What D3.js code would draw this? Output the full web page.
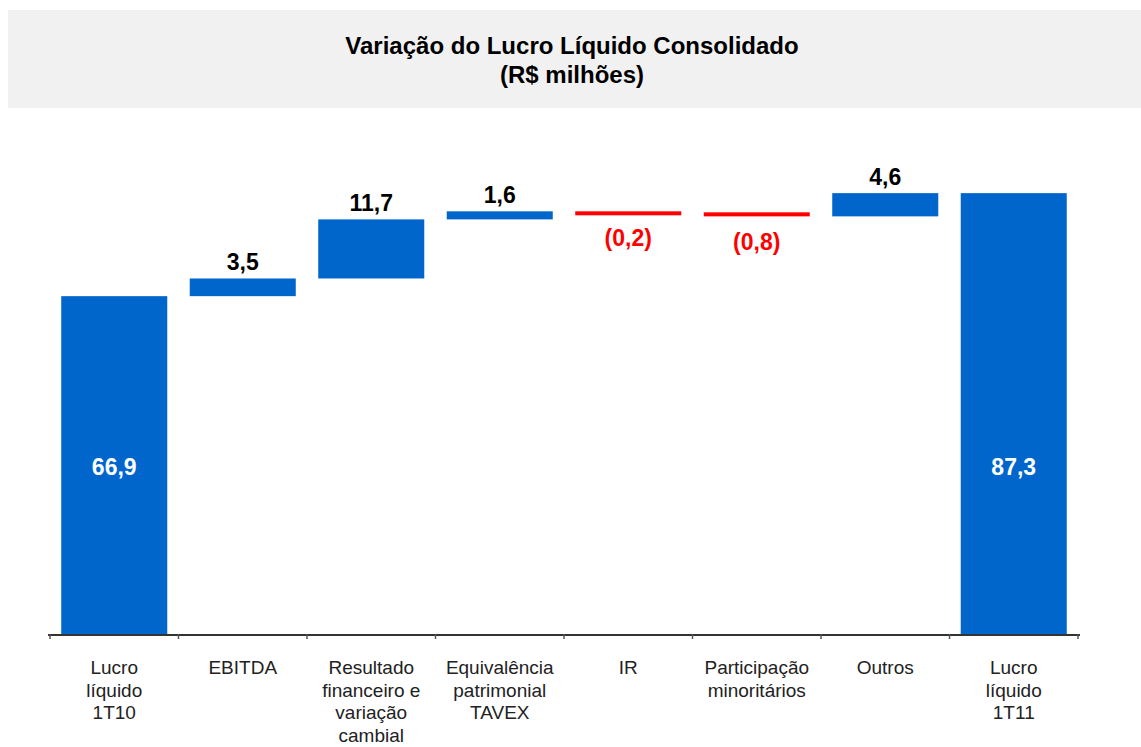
<!DOCTYPE html>
<html>
<head>
<meta charset="utf-8">
<script src="https://cdn.jsdelivr.net/npm/d3@7"></script>
<style>
    body { margin: 0; background: #fff; }
    text { font-family: "Liberation Sans", Arial, sans-serif; }
    .title { font-size: 24px; font-weight: bold; fill: #000; }
    .cat { font-size: 19px; fill: #222; }
    .val { font-size: 23px; font-weight: bold; }
</style>
</head>
<body>
<div id="chart"></div>
<script>
    let steps = [
        {label: ["Lucro", "líquido", "1T10"], value: 66.9, type: "total"},
        {label: ["EBITDA"], value: 3.5, type: "delta"},
        {label: ["Resultado", "financeiro e", "variação", "cambial"], value: 11.7, type: "delta"},
        {label: ["Equivalência", "patrimonial", "TAVEX"], value: 1.6, type: "delta"},
        {label: ["IR"], value: -0.2, type: "delta"},
        {label: ["Participação", "minoritários"], value: -0.8, type: "delta"},
        {label: ["Outros"], value: 4.6, type: "delta"},
        {label: ["Lucro", "líquido", "1T11"], value: 87.3, type: "total"}
    ];

    // running totals for the waterfall
    let acc = 0;
    steps.forEach((d, i) => {
        d.i = i;
        if (d.type == "total") {
            d.start = 0;
            d.end = d.value;
            acc = d.value;
        } else {
            d.start = acc;
            d.end = acc + d.value;
            acc = d.end;
        }
    });

    let width = 1141;
    let height = 747;
    let baseline = 634;

    let svg = d3.select("#chart")
        .append("svg")
        .attr("width", width)
        .attr("height", height);

    // title box
    svg.append("rect")
        .attr("x", 8)
        .attr("y", 10)
        .attr("width", width - 8)
        .attr("height", 98)
        .attr("fill", "#f1f1f1");

    svg.append("text")
        .attr("class", "title")
        .attr("text-anchor", "middle")
        .attr("x", 572)
        .attr("y", 54)
        .text("Variação do Lucro Líquido Consolidado");

    svg.append("text")
        .attr("class", "title")
        .attr("text-anchor", "middle")
        .attr("x", 572)
        .attr("y", 83)
        .text("(R$ milhões)");

    let x = d3.scaleBand()
        .domain(steps.map(d => d.i))
        .range([50, 1078])
        .paddingInner(0.175)
        .paddingOuter(0.0875);

    let y = d3.scaleLinear()
        .domain([0, 90])
        .range([baseline, baseline - 90 * 5.05]);

    let color = d => d.value < 0 ? "#ff0000" : "#0066cc";

    svg.selectAll("rect.bar")
        .data(steps)
        .enter()
        .append("rect")
        .attr("class", "bar")
        .attr("x", d => x(d.i))
        .attr("width", x.bandwidth())
        .attr("y", d => Math.min(y(d.start), y(d.end)))
        .attr("height", d => Math.max(4, Math.abs(y(d.start) - y(d.end))))
        .attr("fill", color);

    // axis
    svg.append("line")
        .attr("x1", 48)
        .attr("x2", 1080)
        .attr("y1", baseline + 1)
        .attr("y2", baseline + 1)
        .attr("stroke", "#333")
        .attr("stroke-width", 2);

    let bounds = [x.range()[0]].concat(steps.slice(0, -1).map(d => x(d.i) + x.bandwidth() + (x.step() - x.bandwidth()) / 2), [x.range()[1]]);
    svg.selectAll("line.tick")
        .data(bounds)
        .enter()
        .append("line")
        .attr("class", "tick")
        .attr("x1", d => d)
        .attr("x2", d => d)
        .attr("y1", baseline)
        .attr("y2", baseline + 5)
        .attr("stroke", "#555")
        .attr("stroke-width", 1.5);

    let fmt = v => d3.format(".1f")(Math.abs(v)).replace(".", ",");

    // value labels
    svg.selectAll("text.val")
        .data(steps)
        .enter()
        .append("text")
        .attr("class", "val")
        .attr("text-anchor", "middle")
        .attr("x", d => x(d.i) + x.bandwidth() / 2)
        .attr("y", d => {
            if (d.type == "total") return y(33) + 8;
            if (d.value < 0) return y(Math.min(d.start, d.end)) + 34;
            return y(d.end) - 8;
        })
        .attr("fill", d => d.type == "total" ? "#fff" : (d.value < 0 ? "#ff0000" : "#000"))
        .text(d => d.value < 0 ? "(" + fmt(d.value) + ")" : fmt(d.value));

    // category labels
    let cats = svg.selectAll("text.cat")
        .data(steps)
        .enter()
        .append("text")
        .attr("class", "cat")
        .attr("text-anchor", "middle")
        .attr("y", 674);

    cats.selectAll("tspan")
        .data(d => d.label.map(l => ({l: l, cx: x(d.i) + x.bandwidth() / 2})))
        .enter()
        .append("tspan")
        .attr("x", d => d.cx)
        .attr("dy", (d, i) => i == 0 ? 0 : 22.5)
        .text(d => d.l);
</script>
</body>
</html>
